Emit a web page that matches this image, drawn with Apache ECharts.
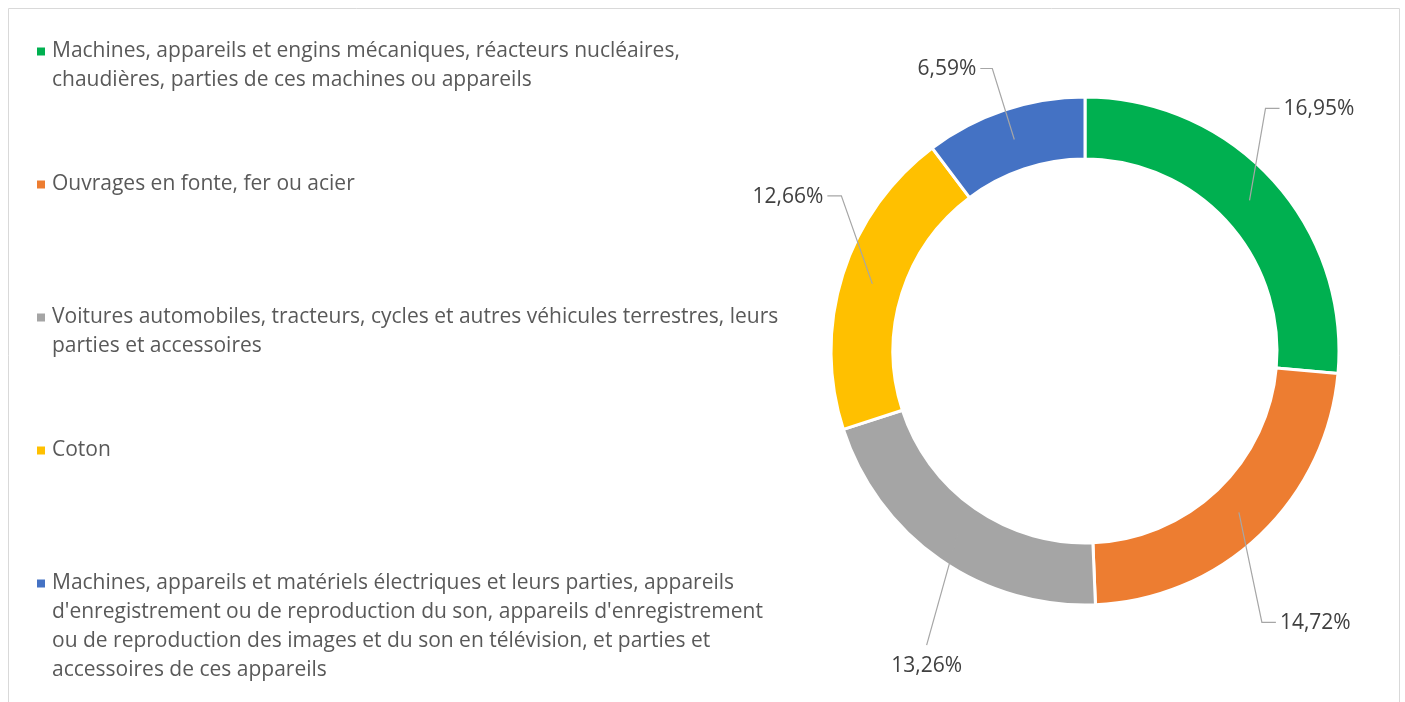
<!DOCTYPE html>
<html>
<head>
<meta charset="utf-8">
<script src="https://cdn.jsdelivr.net/npm/echarts@6/dist/echarts.min.js"></script>
<style>
  html, body { margin: 0; padding: 0; background: #fff; }
  #chart { width: 1405px; height: 702px; }
</style>
</head>
<body>
<div id="chart"></div>
<script>
const categories = [
  'Machines, appareils et engins mécaniques, réacteurs nucléaires,\nchaudières, parties de ces machines ou appareils',
  'Ouvrages en fonte, fer ou acier',
  'Voitures automobiles, tracteurs, cycles et autres véhicules terrestres, leurs\nparties et accessoires',
  'Coton',
  "Machines, appareils et matériels électriques et leurs parties, appareils\nd'enregistrement ou de reproduction du son, appareils d'enregistrement\nou de reproduction des images et du son en télévision, et parties et\naccessoires de ces appareils"
];
const shares = [16.95, 14.72, 13.26, 12.66, 6.59];
const colors = ['#00B050', '#ED7D31', '#A5A5A5', '#FFC000', '#4472C4'];

// label placement relative to the leader line start: [dx, dy, horizontal tail]
const labelOffsets = [[16, -92, 14], [23, 110, 14], [-31, 111, 0], [-31, -88, -14], [-22, -71, -12]];

const font = '"Open Sans", "Noto Sans", sans-serif';
const chart = echarts.init(document.getElementById('chart'), null, { renderer: 'canvas' });

const rich = { t: { fontSize: 21, color: '#595959', lineHeight: 29, fontFamily: font }, pad: { width: 15, lineHeight: 29 } };
colors.forEach((c, i) => {
  rich['s' + i] = { width: 8, height: 8, backgroundColor: c, verticalAlign: 'middle', lineHeight: 29 };
});
rich.gap = { width: 7, lineHeight: 29 };

const data = categories.map((name, i) => ({ name: name, value: shares[i], itemStyle: { color: colors[i] } }));

chart.setOption({
  animation: false,
  textStyle: { fontFamily: font },
  graphic: [{
    type: 'rect',
    shape: { x: 8.5, y: 8.5, width: 1391, height: 760 },
    style: { fill: 'none', stroke: '#D9D9D9', lineWidth: 1 },
    silent: true
  }],
  legend: {
    orient: 'vertical',
    left: 32,
    top: 41,
    height: 900,
    padding: 0,
    itemGap: 83,
    itemWidth: 0,
    itemHeight: 8,
    icon: 'none',
    selectedMode: false,
    data: categories,
    formatter: function (name) {
      const i = categories.indexOf(name);
      const lines = name.split('\n');
      if (lines.length === 1) lines.push(' ');
      return lines.map((l, k) => (k === 0 ? '{s' + i + '|}{gap|}' : '{pad|}') + '{t|' + l + '}').join('\n');
    },
    textStyle: { rich: rich }
  },
  series: [{
    type: 'pie',
    center: [1085, 351],
    radius: [192, 254],
    startAngle: 90,
    clockwise: true,
    avoidLabelOverlap: false,
    silent: true,
    label: { show: false },
    labelLine: { show: false },
    itemStyle: { borderColor: '#fff', borderWidth: 3 },
    data: data
  }, {
    type: 'pie',
    center: [1085, 351],
    radius: [222, 223],
    startAngle: 90,
    clockwise: true,
    avoidLabelOverlap: false,
    silent: true,
    z: 5,
    itemStyle: { color: 'rgba(0,0,0,0)', borderWidth: 0 },
    label: {
      show: true,
      position: 'outside',
      fontSize: 21,
      color: '#404040',
      fontFamily: font,
      formatter: p => shares[p.dataIndex].toFixed(2).replace('.', ',') + '%'
    },
    labelLine: { show: true, length: 10, length2: 10, lineStyle: { color: '#A6A6A6', width: 1.2 } },
    labelLayout: function (params) {
      const pts = params.labelLinePoints;
      if (!pts) return {};
      const p0 = pts[0];
      const o = labelOffsets[params.dataIndex];
      const elbow = [p0[0] + o[0], p0[1] + o[1]];
      const end = [elbow[0] + o[2], elbow[1]];
      if (o[2] === 0) {
        return { x: elbow[0], y: elbow[1] + 10, align: 'center', verticalAlign: 'top', labelLinePoints: [p0, elbow, end] };
      }
      return {
        x: end[0] + (o[2] > 0 ? 4 : -4), y: end[1] + 1,
        align: o[2] > 0 ? 'left' : 'right', verticalAlign: 'middle',
        labelLinePoints: [p0, elbow, end]
      };
    },
    data: categories.map((name, i) => ({ name: name, value: shares[i] }))
  }]
});
</script>
</body>
</html>
